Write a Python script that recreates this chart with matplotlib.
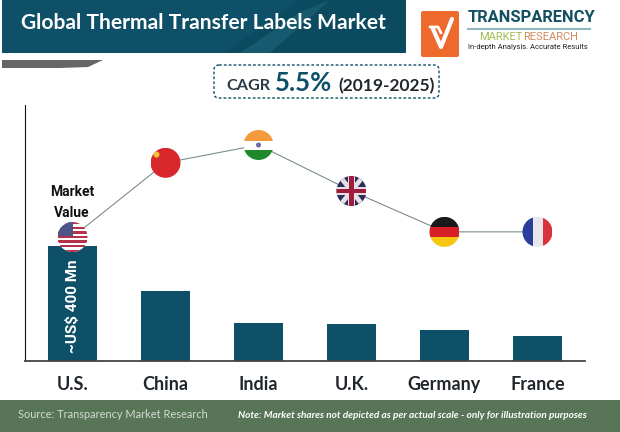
# -*- coding: utf-8 -*-
#%% Imports

import matplotlib
matplotlib.use('Agg')
import matplotlib.pyplot as plt
from matplotlib.patches import Circle, FancyBboxPatch, Polygon, Rectangle

#%% Data

countries = ['U.S.', 'China', 'India', 'U.K.', 'Germany', 'France']
market_value = [400, 243, 132, 129, 108, 87]
flag_line = [431, 689, 751, 591, 449, 449]

teal = '#0e5068'
green = '#587557'

#%% Figure and chart axes

fig = plt.figure(figsize=(6.2, 4.32), dpi=100)
W, H = 620, 432

ax = fig.add_axes([25 / W, 1 - 361 / H, 560 / W, 256 / H])
ax.bar(range(6), market_value, width=0.527, color=teal, zorder=2)
ax.plot(range(6), flag_line, color='#7d8c90', lw=0.8, zorder=1)
ax.set_xlim(-0.511, 5.511)
ax.set_ylim(0, 890)
ax.set_xticks(range(6))
ax.set_xticklabels(countries, family='Lato', weight='bold', fontsize=13, color='#20262b')
ax.tick_params(axis='x', length=0, pad=11)
ax.set_yticks([])
ax.spines['top'].set_visible(False)
ax.spines['right'].set_visible(False)
ax.spines['left'].set_color('#111111')
ax.spines['bottom'].set_color('#444444')
ax.spines['bottom'].set_linewidth(1.3)
ax.patch.set_alpha(0)
ax.text(0, 190, '~US$ 400 Mn', rotation=90, color='white', ha='center', va='center',
        family='Roboto', weight='bold', fontsize=11, zorder=3)

#%% Overlay axes in image pixels

ov = fig.add_axes([0, 0, 1, 1], zorder=5)
ov.set_xlim(0, W)
ov.set_ylim(H, 0)
ov.axis('off')
ov.patch.set_alpha(0)

# header
ov.add_patch(Rectangle((2, 0), 404, 53, color=teal, lw=0))
ov.add_patch(Polygon([(225, 53), (300, 0), (406, 0), (406, 53)], color='#0b4a5f', lw=0))
ov.add_patch(Polygon([(240, 53), (300, 12), (330, 0), (270, 53)], color='#175a70', lw=0))
ov.add_patch(Polygon([(2, 60), (103, 60), (88, 67), (60, 68), (2, 68)], color='#666666', lw=0))
ov.text(21, 23, 'Global Thermal Transfer Labels Market', color='white', family='Lato',
        weight='bold', fontsize=15.1, va='center', ha='left')

# logo
ov.add_patch(FancyBboxPatch((421, 11), 38, 46, boxstyle='round,pad=0,rounding_size=2',
                            color='#ee6a2c', lw=0))
ov.plot([433, 441, 452], [29, 47, 19], color='white', lw=3, solid_capstyle='round')
ov.plot([430, 438, 441], [27, 27, 33], color='white', lw=2, solid_capstyle='round')
ov.text(468, 17.5, 'TRANSPARENCY', color='#12505f', family='Roboto',
        weight='bold', fontsize=11.9, va='center', ha='left')
ov.plot([468, 590], [29, 29], color='#8fb6bd', lw=1.5)
ov.text(479, 37.5, 'MARKET', color='#a4bb54', family='Roboto', fontsize=8,
        va='center', ha='left')
ov.text(523, 37.5, 'RESEARCH', color='#d28a5d', family='Roboto', fontsize=8,
        va='center', ha='left')
ov.text(468, 46.5, 'In-depth Analysis. Accurate Results', color='#222222',
        family='Roboto', fontsize=5.5, va='center', ha='left')

# CAGR box
ov.add_patch(FancyBboxPatch((214, 65), 225, 33, boxstyle='round,pad=0,rounding_size=5',
                            fc='white', ec=teal, lw=1, ls=(0, (2, 1.5))))
ov.text(226, 85.5, 'CAGR', color='#2a3b45', family='Lato', weight='bold', fontsize=11.7,
        va='center', ha='left')
ov.text(275, 83, '5.5%', color=teal, family='Lato', weight='bold', fontsize=18.5,
        va='center', ha='left')
ov.text(338, 86, '(2019-2025)', color='#20262b', family='Lato', weight='bold', fontsize=12.5,
        va='center', ha='left')

# market value label
ov.text(72, 192, 'Market', color='#111111', family='Roboto', weight='bold',
        fontsize=10, va='center', ha='center')
ov.text(72, 213, 'Value', color='#111111', family='Roboto', weight='bold',
        fontsize=10, va='center', ha='center')

# footer
ov.add_patch(Rectangle((0, 400), W, 32, color=green, lw=0))
ov.text(18, 415, 'Source: Transparency Market Research', color='#d3dcd2', family='Lato',
        fontsize=7.9, va='center', ha='left')
ov.text(238, 415, 'Note: Market shares not depicted as per actual scale - only for illustration purposes',
        color='white', family='Lato', style='italic', weight='bold', fontsize=7.2,
        va='center', ha='left')

#%% Flags on the line points

def flag_centre(i):
    x, y = ax.transData.transform((i, flag_line[i]))
    return x, H - y

def make_flag(i, r=15):
    cx, cy = flag_centre(i)
    clip = Circle((cx, cy), r, transform=ov.transData)
    name = countries[i]

    def add(p):
        ov.add_patch(p)
        p.set_clip_path(clip)

    def hband(top, bottom, col):
        add(Rectangle((cx - r, cy - r + top * 2 * r), 2 * r, (bottom - top) * 2 * r, color=col, lw=0))

    def vband(left, right, col):
        add(Rectangle((cx - r + left * 2 * r, cy - r), (right - left) * 2 * r, 2 * r, color=col, lw=0))

    if name == 'U.S.':
        hband(0, 1, 'white')
        for k in range(0, 13, 2):
            hband(k / 13, (k + 1) / 13, '#b5324a')
        add(Rectangle((cx - r, cy - r), r, r * 0.95, color='#4f5488', lw=0))
    elif name == 'China':
        hband(0, 1, '#d8282b')
        add(Circle((cx - r * 0.6, cy - r * 0.55), 3, color='#f2c230', lw=0))
    elif name == 'India':
        hband(0, 0.36, '#f39a3c')
        hband(0.36, 0.66, 'white')
        hband(0.66, 1, '#1f8a2c')
        add(Circle((cx, cy), 2.5, color='#6a6aa8', lw=0))
    elif name == 'U.K.':
        hband(0, 1, '#2a2f5e')
        add(Polygon([(cx - r, cy - r), (cx - r + 6, cy - r), (cx + r, cy + r), (cx + r - 6, cy + r)], color='#e9dfe2', lw=0))
        add(Polygon([(cx + r, cy - r), (cx + r - 6, cy - r), (cx - r, cy + r), (cx - r + 6, cy + r)], color='#e9dfe2', lw=0))
        hband(0.38, 0.62, '#e9dfe2')
        vband(0.38, 0.62, '#e9dfe2')
        hband(0.43, 0.57, '#a01c3c')
        vband(0.43, 0.57, '#a01c3c')
    elif name == 'Germany':
        hband(0, 0.35, '#1a1a1a')
        hband(0.35, 0.67, '#d81f26')
        hband(0.67, 1, '#f6c710')
    elif name == 'France':
        vband(0, 0.36, '#2b3f9a')
        vband(0.36, 0.68, '#e6e6ec')
        vband(0.68, 1, '#d8323a')

for i in range(6):
    make_flag(i)

#%% Save

fig.savefig('out.png', dpi=100)
